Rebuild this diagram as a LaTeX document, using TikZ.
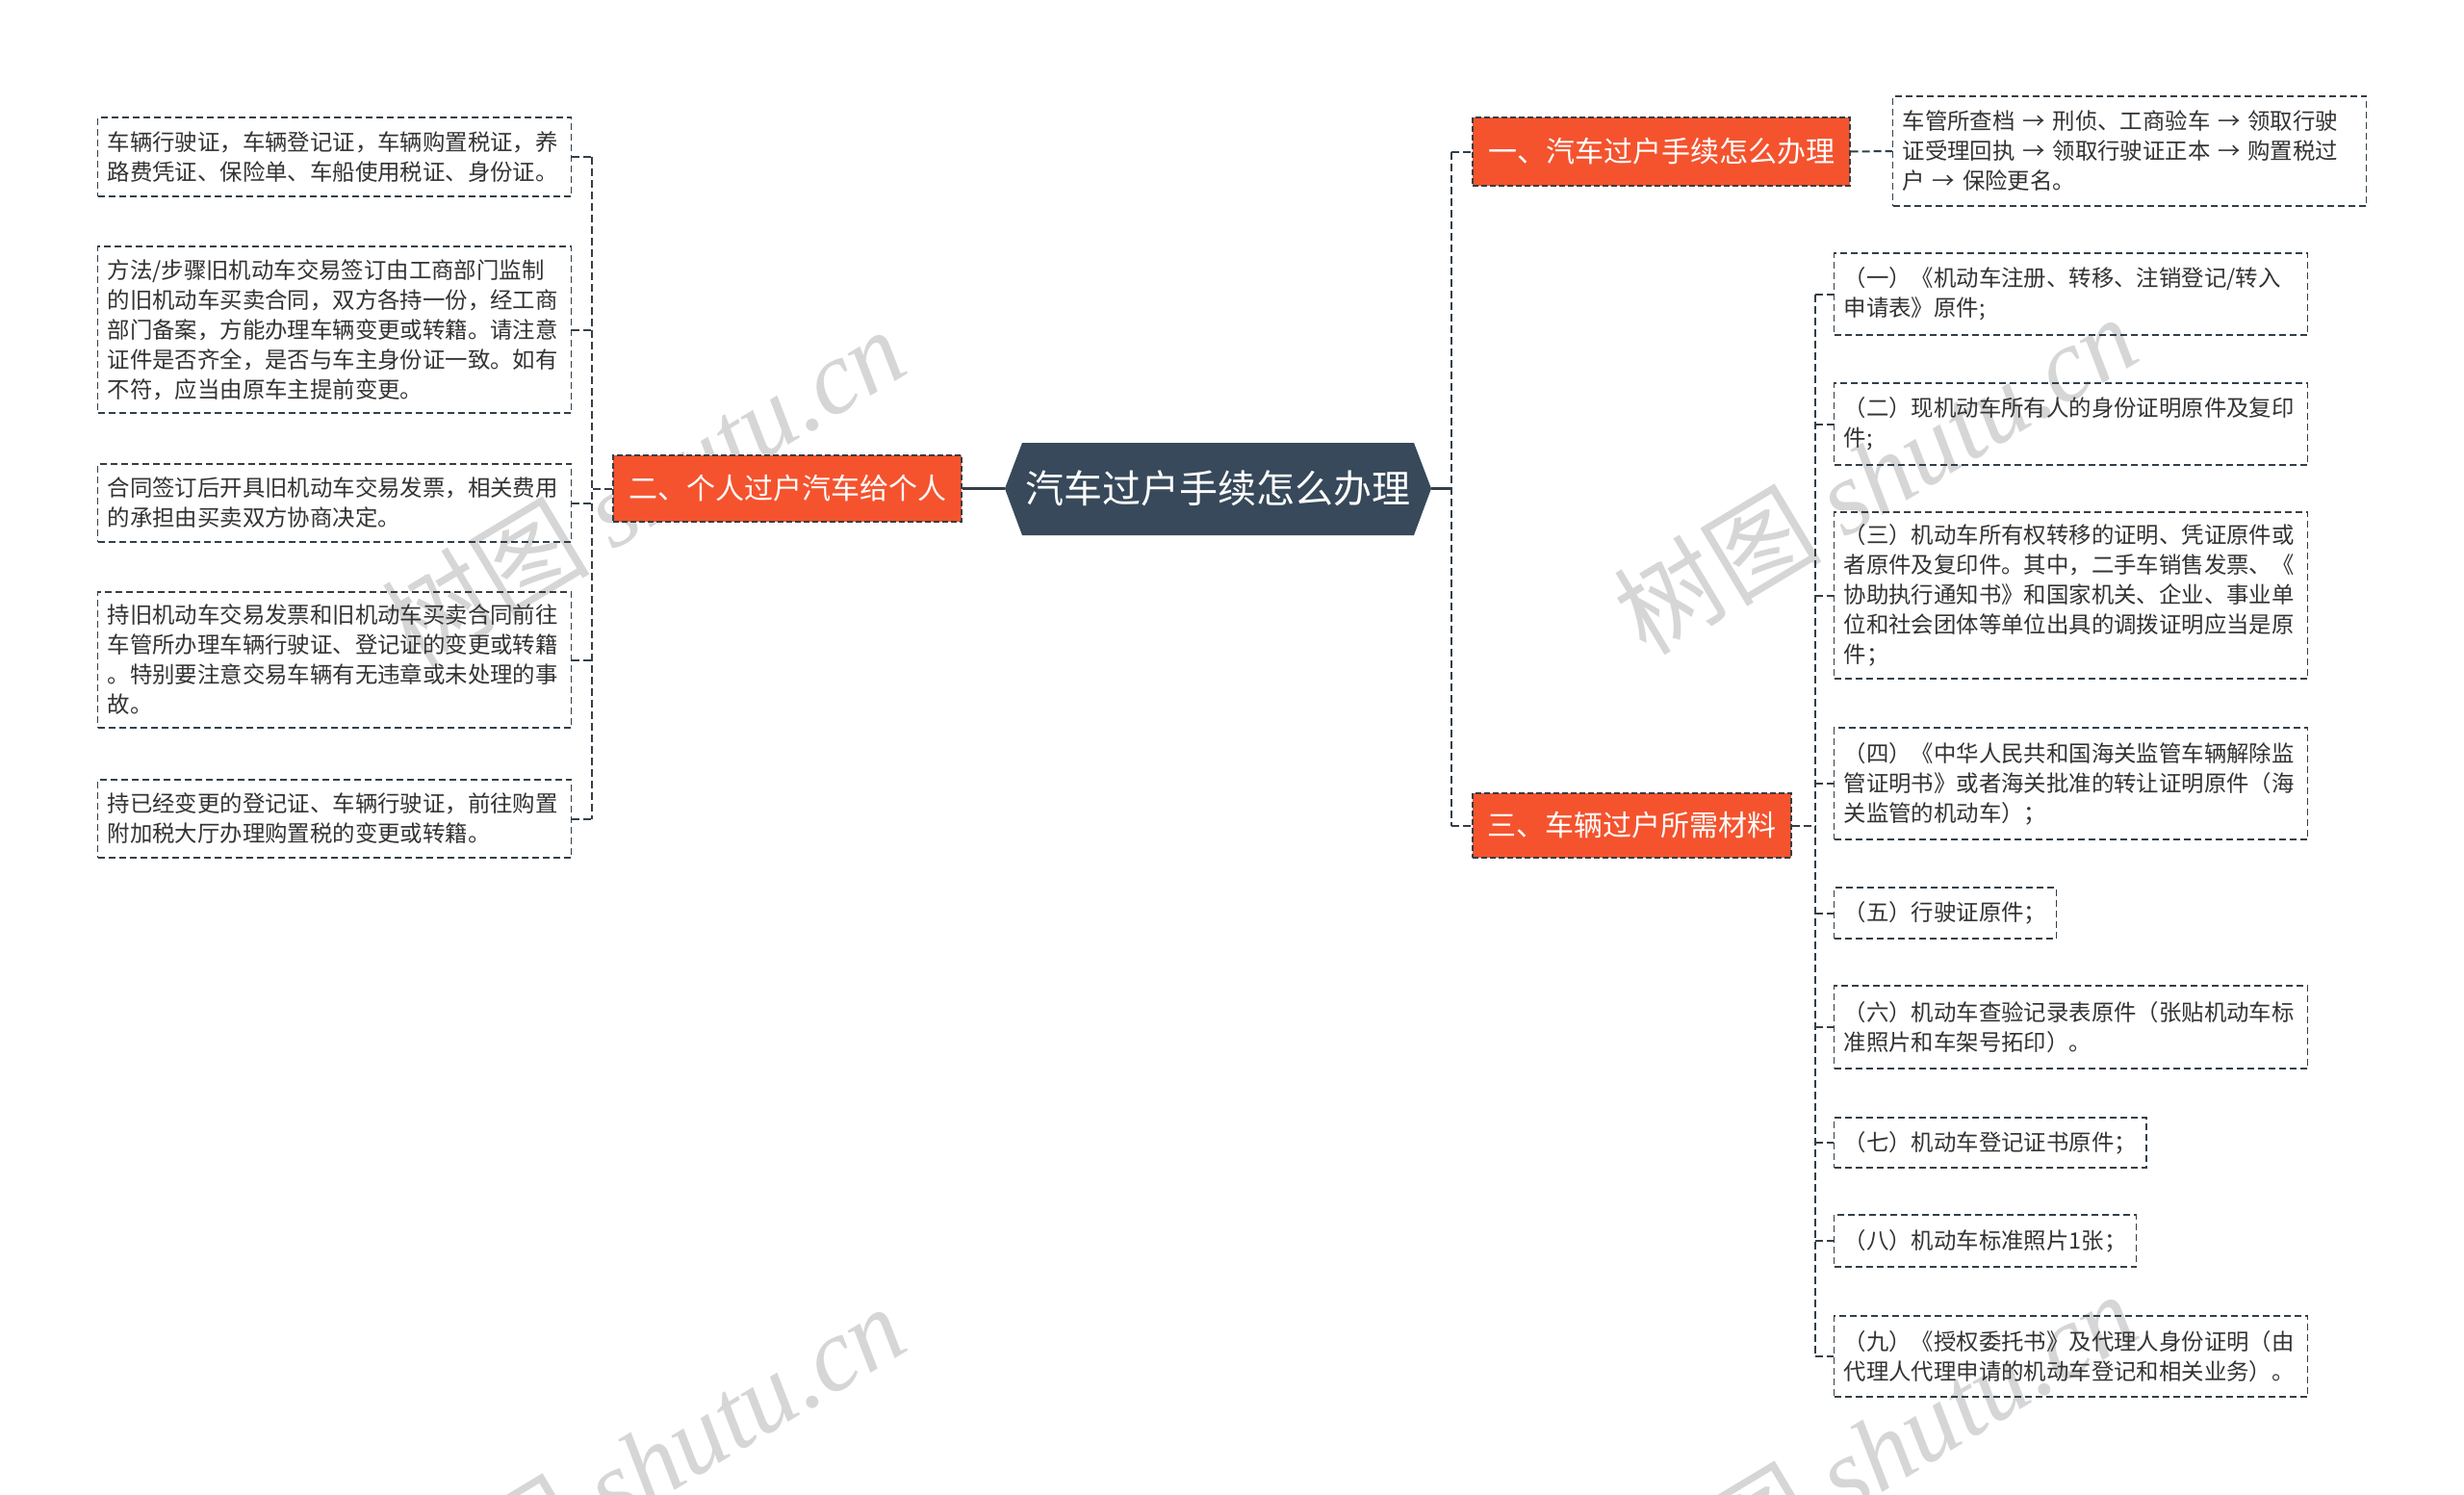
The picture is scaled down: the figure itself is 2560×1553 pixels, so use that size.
\documentclass[tikz,border=0pt]{standalone}
\usepackage{fontspec}
\newfontfamily\cjk{Noto Sans CJK SC}
\newfontfamily\wmserif{Liberation Serif}
\definecolor{linec}{HTML}{333F48}
\definecolor{textc}{HTML}{333333}
\definecolor{orangec}{HTML}{F4532E}
\definecolor{hexc}{HTML}{37495A}
\definecolor{wmc}{HTML}{D6D6D6}
\tikzset{
  leaf/.style={draw=linec, dash pattern=on 3.5pt off 2pt, line width=0.7pt,
    text=textc, font=\cjk\fontsize{11.7}{15.5}\selectfont, align=left,
    inner xsep=5pt, inner ysep=0pt, anchor=west},
  wide/.style={text width=236pt},
  topic/.style={fill=orangec, draw=linec, dash pattern=on 3pt off 1.5pt, line width=0.7pt,
    text=white, font=\cjk\fontsize{15}{18}\selectfont, inner sep=0pt},
  conn/.style={draw=linec, line width=1pt, dash pattern=on 4pt off 2pt},
  trunk/.style={draw=linec, line width=1.2pt},
  wmark/.style={text=wmc, rotate=31, anchor=base east, inner sep=0pt}
}
\begin{document}
\begin{tikzpicture}[x=0.5pt,y=-0.5pt]
\useasboundingbox (0,0) rectangle (2560,1553);
\fill[white] (0,0) rectangle (2560,1553);

% watermarks
\node[wmark] (wm1) at (948,385) {\cjk\fontsize{54}{56}\selectfont 树图 \wmserif\itshape shutu.cn};
\node[wmark] (wm2) at (2228,372) {\cjk\fontsize{54}{56}\selectfont 树图 \wmserif\itshape shutu.cn};
\node[wmark] (wm3) at (948,1400) {\cjk\fontsize{54}{56}\selectfont 树图 \wmserif\itshape shutu.cn};
\node[wmark] (wm4) at (2228,1387) {\cjk\fontsize{54}{56}\selectfont 树图 \wmserif\itshape shutu.cn};

% central hexagon
\fill[hexc] (1044,507.5) -- (1062,460) -- (1469,460) -- (1487,507.5) -- (1469,556) -- (1062,556) -- cycle;
\node[text=white, font=\cjk\fontsize{20}{24}\selectfont, minimum width=221.5pt, minimum height=48pt, inner sep=0pt] (root) at (1265.5,507.5) {汽车过户手续怎么办理};

% main topics
\node[topic, minimum width=196pt, minimum height=35.5pt] (t1) at (1726,157.5) {一、汽车过户手续怎么办理};
\node[topic, minimum width=181pt, minimum height=34.5pt] (t2) at (818,507.5) {二、个人过户汽车给个人};
\node[topic, minimum width=165.5pt, minimum height=33.5pt] (t3) at (1695.5,857.5) {三、车辆过户所需材料};

% topic 1 child
\node[leaf, wide, minimum height=57pt] (a1) at (1966,157) {车管所查档 → 刑侦、工商验车 → 领取行驶\\证受理回执 → 领取行驶证正本 → 购置税过\\户 → 保险更名。};

% topic 2 children
\node[leaf, wide, minimum height=41pt] (b1) at (101,163) {车辆行驶证，车辆登记证，车辆购置税证，养\\路费凭证、保险单、车船使用税证、身份证。};
\node[leaf, wide, minimum height=86.5pt] (b2) at (101,342.5) {方法/步骤旧机动车交易签订由工商部门监制\\的旧机动车买卖合同，双方各持一份，经工商\\部门备案，方能办理车辆变更或转籍。请注意\\证件是否齐全，是否与车主身份证一致。如有\\不符，应当由原车主提前变更。};
\node[leaf, wide, minimum height=40.5pt] (b3) at (101,522.5) {合同签订后开具旧机动车交易发票，相关费用\\的承担由买卖双方协商决定。};
\node[leaf, wide, minimum height=70.5pt] (b4) at (101,685.5) {持旧机动车交易发票和旧机动车买卖合同前往\\车管所办理车辆行驶证、登记证的变更或转籍\\。特别要注意交易车辆有无违章或未处理的事\\故。};
\node[leaf, wide, minimum height=40.5pt] (b5) at (101,850.5) {持已经变更的登记证、车辆行驶证，前往购置\\附加税大厅办理购置税的变更或转籍。};

% topic 3 children
\node[leaf, wide, minimum height=42.5pt] (c1) at (1905,305.5) {（一）《机动车注册、转移、注销登记/转入\\申请表》原件;};
\node[leaf, wide, minimum height=42.5pt] (c2) at (1905,440.5) {（二）现机动车所有人的身份证明原件及复印\\件;};
\node[leaf, wide, minimum height=86.5pt] (c3) at (1905,618.5) {（三）机动车所有权转移的证明、凭证原件或\\者原件及复印件。其中，二手车销售发票、《\\协助执行通知书》和国家机关、企业、事业单\\位和社会团体等单位出具的调拨证明应当是原\\件；};
\node[leaf, wide, minimum height=58pt] (c4) at (1905,814) {（四）《中华人民共和国海关监管车辆解除监\\管证明书》或者海关批准的转让证明原件（海\\关监管的机动车）；};
\node[leaf, minimum height=26.5pt] (c5) at (1905,948.5) {（五）行驶证原件；};
\node[leaf, wide, minimum height=43pt] (c6) at (1905,1067) {（六）机动车查验记录表原件（张贴机动车标\\准照片和车架号拓印）。};
\node[leaf, minimum height=26pt] (c7) at (1905,1187) {（七）机动车登记证书原件；};
\node[leaf, minimum height=27pt] (c8) at (1905,1289) {（八）机动车标准照片1张；};
\node[leaf, wide, minimum height=42pt] (c9) at (1905,1409) {（九）《授权委托书》及代理人身份证明（由\\代理人代理申请的机动车登记和相关业务）。};

% junction coordinates
\coordinate (rj) at (1508,507.5);
\coordinate (lj) at (615,507.5);
\coordinate (cj) at (1886,857.5);

% connectors: root
\draw[trunk] (root.east) -- (rj);
\draw[trunk] (root.west) -- (t2.east);
\draw[conn] (rj |- t1) -- (rj |- t3);
\draw[conn] (rj |- t1) -- (t1.west);
\draw[conn] (rj |- t3) -- (t3.west);

% topic 1
\draw[conn] (t1.east) -- (a1.west);

% topic 2
\draw[conn] (t2.west) -- (lj);
\draw[conn] (lj |- b1) -- (lj |- b5);
\foreach \n in {b1,b2,b3,b4,b5} { \draw[conn] (\n.east) -- (lj |- \n); }

% topic 3
\draw[conn] (t3.east) -- (cj);
\draw[conn] (cj |- c1) -- (cj |- c9);
\foreach \n in {c1,c2,c3,c4,c5,c6,c7,c8,c9} { \draw[conn] (cj |- \n) -- (\n.west); }
\end{tikzpicture}
\end{document}
